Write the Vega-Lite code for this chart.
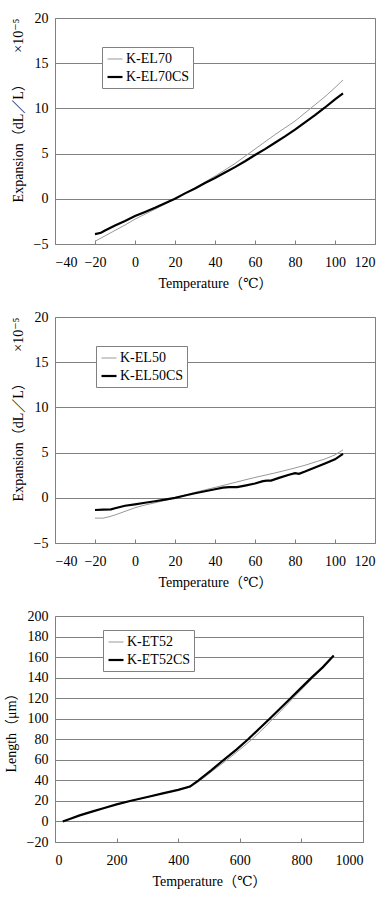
{
  "$schema": "https://vega.github.io/schema/vega-lite/v6.json",
  "padding": {"left": 3, "top": 10, "right": 5, "bottom": 5},
  "spacing": 18,
  "background": "white",
  "resolve": {
    "scale": {"color": "independent", "strokeWidth": "independent"},
    "legend": {"color": "independent", "strokeWidth": "independent"}
  },
  "config": {
    "font": "Liberation Serif, DejaVu Serif, Noto Sans CJK JP",
    "view": {"stroke": "#808080", "strokeWidth": 1},
    "axis": {
      "labelFont": "Liberation Serif, DejaVu Serif, Noto Sans CJK JP",
      "titleFont": "Liberation Serif, DejaVu Serif, Noto Sans CJK JP",
      "labelFontSize": 14,
      "labelColor": "#000000",
      "titleFontSize": 14,
      "titleFontWeight": "normal",
      "titleColor": "#000000",
      "domain": false,
      "gridColor": "#808080",
      "gridOpacity": 1,
      "gridWidth": 1,
      "tickColor": "#808080",
      "format": "d"
    },
    "axisX": {"grid": false, "tickSize": -4, "labelPadding": 15, "titlePadding": 7},
    "axisY": {"ticks": false, "labelPadding": 7, "grid": true, "titlePadding": 8},
    "legend": {
      "orient": "none",
      "title": null,
      "strokeColor": "#808080",
      "fillColor": "white",
      "padding": 4,
      "labelFont": "Liberation Serif, DejaVu Serif, Noto Sans CJK JP",
      "labelFontSize": 14,
      "labelColor": "#000000",
      "symbolType": "stroke",
      "symbolSize": 225,
      "rowPadding": 2,
      "labelOffset": 2
    },
    "line": {"interpolate": "linear"}
  },
  "vconcat": [
    {
      "width": 320,
      "height": 226,
      "data": {"values": [
        {"T": -20, "v": -4.7, "s": "K-EL70"},
        {"T": -15, "v": -4.1, "s": "K-EL70"},
        {"T": -10, "v": -3.5, "s": "K-EL70"},
        {"T": -5, "v": -2.9, "s": "K-EL70"},
        {"T": 0, "v": -2.25, "s": "K-EL70"},
        {"T": 5, "v": -1.7, "s": "K-EL70"},
        {"T": 10, "v": -1.15, "s": "K-EL70"},
        {"T": 15, "v": -0.58, "s": "K-EL70"},
        {"T": 20, "v": 0, "s": "K-EL70"},
        {"T": 25, "v": 0.6, "s": "K-EL70"},
        {"T": 30, "v": 1.2, "s": "K-EL70"},
        {"T": 35, "v": 1.85, "s": "K-EL70"},
        {"T": 40, "v": 2.5, "s": "K-EL70"},
        {"T": 45, "v": 3.2, "s": "K-EL70"},
        {"T": 50, "v": 3.9, "s": "K-EL70"},
        {"T": 55, "v": 4.7, "s": "K-EL70"},
        {"T": 60, "v": 5.5, "s": "K-EL70"},
        {"T": 65, "v": 6.3, "s": "K-EL70"},
        {"T": 70, "v": 7.1, "s": "K-EL70"},
        {"T": 75, "v": 7.85, "s": "K-EL70"},
        {"T": 80, "v": 8.6, "s": "K-EL70"},
        {"T": 85, "v": 9.5, "s": "K-EL70"},
        {"T": 90, "v": 10.4, "s": "K-EL70"},
        {"T": 95, "v": 11.3, "s": "K-EL70"},
        {"T": 100, "v": 12.3, "s": "K-EL70"},
        {"T": 104, "v": 13.15, "s": "K-EL70"},
        {"T": -20, "v": -3.9, "s": "K-EL70CS"},
        {"T": -17, "v": -3.75, "s": "K-EL70CS"},
        {"T": -15, "v": -3.5, "s": "K-EL70CS"},
        {"T": -10, "v": -2.95, "s": "K-EL70CS"},
        {"T": -5, "v": -2.45, "s": "K-EL70CS"},
        {"T": 0, "v": -1.9, "s": "K-EL70CS"},
        {"T": 5, "v": -1.45, "s": "K-EL70CS"},
        {"T": 10, "v": -1.0, "s": "K-EL70CS"},
        {"T": 15, "v": -0.5, "s": "K-EL70CS"},
        {"T": 20, "v": 0, "s": "K-EL70CS"},
        {"T": 25, "v": 0.6, "s": "K-EL70CS"},
        {"T": 30, "v": 1.15, "s": "K-EL70CS"},
        {"T": 35, "v": 1.75, "s": "K-EL70CS"},
        {"T": 40, "v": 2.3, "s": "K-EL70CS"},
        {"T": 45, "v": 2.9, "s": "K-EL70CS"},
        {"T": 50, "v": 3.5, "s": "K-EL70CS"},
        {"T": 55, "v": 4.15, "s": "K-EL70CS"},
        {"T": 60, "v": 4.85, "s": "K-EL70CS"},
        {"T": 65, "v": 5.5, "s": "K-EL70CS"},
        {"T": 70, "v": 6.2, "s": "K-EL70CS"},
        {"T": 75, "v": 6.9, "s": "K-EL70CS"},
        {"T": 80, "v": 7.65, "s": "K-EL70CS"},
        {"T": 85, "v": 8.45, "s": "K-EL70CS"},
        {"T": 90, "v": 9.25, "s": "K-EL70CS"},
        {"T": 95, "v": 10.1, "s": "K-EL70CS"},
        {"T": 100, "v": 11.0, "s": "K-EL70CS"},
        {"T": 104, "v": 11.65, "s": "K-EL70CS"}
      ]},
      "mark": {"type": "line"},
      "encoding": {
        "x": {"field": "T", "type": "quantitative", "scale": {"domain": [-40, 120], "nice": false},
              "axis": {"values": [-40, -20, 0, 20, 40, 60, 80, 100, 120], "title": "Temperature（℃）"}},
        "y": {"field": "v", "type": "quantitative", "scale": {"domain": [-5, 20], "nice": false},
              "axis": {"values": [-5, 0, 5, 10, 15, 20], "title": "Expansion（dL／L）　　 ×10⁻⁵", "titleAnchor": "end"}},
        "color": {"field": "s", "type": "nominal", "scale": {"domain": ["K-EL70", "K-EL70CS"], "range": ["#999999", "#000000"]},
                  "legend": {"legendX": 47, "legendY": 29}},
        "strokeWidth": {"field": "s", "type": "nominal", "scale": {"domain": ["K-EL70", "K-EL70CS"], "range": [1, 2.2]}},
        "order": {"field": "T", "type": "quantitative"}
      }
    },
    {
      "width": 320,
      "height": 226,
      "data": {"values": [
        {"T": -20, "v": -2.25, "s": "K-EL50"},
        {"T": -16, "v": -2.25, "s": "K-EL50"},
        {"T": -13, "v": -2.1, "s": "K-EL50"},
        {"T": -10, "v": -1.9, "s": "K-EL50"},
        {"T": -5, "v": -1.5, "s": "K-EL50"},
        {"T": 0, "v": -1.1, "s": "K-EL50"},
        {"T": 5, "v": -0.8, "s": "K-EL50"},
        {"T": 10, "v": -0.55, "s": "K-EL50"},
        {"T": 15, "v": -0.28, "s": "K-EL50"},
        {"T": 20, "v": 0, "s": "K-EL50"},
        {"T": 25, "v": 0.3, "s": "K-EL50"},
        {"T": 30, "v": 0.6, "s": "K-EL50"},
        {"T": 35, "v": 0.88, "s": "K-EL50"},
        {"T": 40, "v": 1.15, "s": "K-EL50"},
        {"T": 45, "v": 1.42, "s": "K-EL50"},
        {"T": 50, "v": 1.7, "s": "K-EL50"},
        {"T": 55, "v": 1.98, "s": "K-EL50"},
        {"T": 60, "v": 2.25, "s": "K-EL50"},
        {"T": 65, "v": 2.5, "s": "K-EL50"},
        {"T": 70, "v": 2.75, "s": "K-EL50"},
        {"T": 75, "v": 3.02, "s": "K-EL50"},
        {"T": 80, "v": 3.3, "s": "K-EL50"},
        {"T": 85, "v": 3.6, "s": "K-EL50"},
        {"T": 90, "v": 3.95, "s": "K-EL50"},
        {"T": 95, "v": 4.3, "s": "K-EL50"},
        {"T": 100, "v": 4.75, "s": "K-EL50"},
        {"T": 104, "v": 5.3, "s": "K-EL50"},
        {"T": -20, "v": -1.35, "s": "K-EL50CS"},
        {"T": -16, "v": -1.3, "s": "K-EL50CS"},
        {"T": -12, "v": -1.28, "s": "K-EL50CS"},
        {"T": -10, "v": -1.15, "s": "K-EL50CS"},
        {"T": -5, "v": -0.88, "s": "K-EL50CS"},
        {"T": 0, "v": -0.72, "s": "K-EL50CS"},
        {"T": 5, "v": -0.55, "s": "K-EL50CS"},
        {"T": 10, "v": -0.38, "s": "K-EL50CS"},
        {"T": 15, "v": -0.2, "s": "K-EL50CS"},
        {"T": 20, "v": 0, "s": "K-EL50CS"},
        {"T": 25, "v": 0.25, "s": "K-EL50CS"},
        {"T": 30, "v": 0.5, "s": "K-EL50CS"},
        {"T": 35, "v": 0.72, "s": "K-EL50CS"},
        {"T": 40, "v": 0.95, "s": "K-EL50CS"},
        {"T": 44, "v": 1.12, "s": "K-EL50CS"},
        {"T": 47, "v": 1.18, "s": "K-EL50CS"},
        {"T": 51, "v": 1.18, "s": "K-EL50CS"},
        {"T": 55, "v": 1.35, "s": "K-EL50CS"},
        {"T": 60, "v": 1.58, "s": "K-EL50CS"},
        {"T": 64, "v": 1.85, "s": "K-EL50CS"},
        {"T": 66, "v": 1.9, "s": "K-EL50CS"},
        {"T": 68, "v": 1.9, "s": "K-EL50CS"},
        {"T": 72, "v": 2.2, "s": "K-EL50CS"},
        {"T": 77, "v": 2.55, "s": "K-EL50CS"},
        {"T": 80, "v": 2.72, "s": "K-EL50CS"},
        {"T": 82, "v": 2.65, "s": "K-EL50CS"},
        {"T": 85, "v": 2.9, "s": "K-EL50CS"},
        {"T": 90, "v": 3.35, "s": "K-EL50CS"},
        {"T": 95, "v": 3.8, "s": "K-EL50CS"},
        {"T": 100, "v": 4.25, "s": "K-EL50CS"},
        {"T": 104, "v": 4.85, "s": "K-EL50CS"}
      ]},
      "mark": {"type": "line"},
      "encoding": {
        "x": {"field": "T", "type": "quantitative", "scale": {"domain": [-40, 120], "nice": false},
              "axis": {"values": [-40, -20, 0, 20, 40, 60, 80, 100, 120], "title": "Temperature（℃）"}},
        "y": {"field": "v", "type": "quantitative", "scale": {"domain": [-5, 20], "nice": false},
              "axis": {"values": [-5, 0, 5, 10, 15, 20], "title": "Expansion（dL／L）　　 ×10⁻⁵", "titleAnchor": "end"}},
        "color": {"field": "s", "type": "nominal", "scale": {"domain": ["K-EL50", "K-EL50CS"], "range": ["#999999", "#000000"]},
                  "legend": {"legendX": 41, "legendY": 29}},
        "strokeWidth": {"field": "s", "type": "nominal", "scale": {"domain": ["K-EL50", "K-EL50CS"], "range": [1, 2.2]}},
        "order": {"field": "T", "type": "quantitative"}
      }
    },
    {
      "width": 308,
      "height": 226,
      "data": {"values": [
        {"T": 25, "v": 0, "s": "K-ET52"},
        {"T": 50, "v": 2.5, "s": "K-ET52"},
        {"T": 80, "v": 5.8, "s": "K-ET52"},
        {"T": 120, "v": 9.5, "s": "K-ET52"},
        {"T": 160, "v": 13, "s": "K-ET52"},
        {"T": 200, "v": 16.5, "s": "K-ET52"},
        {"T": 250, "v": 20.3, "s": "K-ET52"},
        {"T": 300, "v": 23.7, "s": "K-ET52"},
        {"T": 350, "v": 27.3, "s": "K-ET52"},
        {"T": 400, "v": 30.7, "s": "K-ET52"},
        {"T": 440, "v": 33.5, "s": "K-ET52"},
        {"T": 472, "v": 40, "s": "K-ET52"},
        {"T": 515, "v": 50, "s": "K-ET52"},
        {"T": 559, "v": 60, "s": "K-ET52"},
        {"T": 600, "v": 70, "s": "K-ET52"},
        {"T": 640, "v": 80, "s": "K-ET52"},
        {"T": 675, "v": 90, "s": "K-ET52"},
        {"T": 708, "v": 100, "s": "K-ET52"},
        {"T": 741, "v": 110, "s": "K-ET52"},
        {"T": 773, "v": 120, "s": "K-ET52"},
        {"T": 806, "v": 130, "s": "K-ET52"},
        {"T": 838, "v": 140, "s": "K-ET52"},
        {"T": 871, "v": 150, "s": "K-ET52"},
        {"T": 905, "v": 161, "s": "K-ET52"},
        {"T": 25, "v": 0, "s": "K-ET52CS"},
        {"T": 50, "v": 2.6, "s": "K-ET52CS"},
        {"T": 80, "v": 5.9, "s": "K-ET52CS"},
        {"T": 120, "v": 9.6, "s": "K-ET52CS"},
        {"T": 160, "v": 13.1, "s": "K-ET52CS"},
        {"T": 200, "v": 16.6, "s": "K-ET52CS"},
        {"T": 250, "v": 20.4, "s": "K-ET52CS"},
        {"T": 300, "v": 23.8, "s": "K-ET52CS"},
        {"T": 350, "v": 27.4, "s": "K-ET52CS"},
        {"T": 400, "v": 30.8, "s": "K-ET52CS"},
        {"T": 438, "v": 34, "s": "K-ET52CS"},
        {"T": 466, "v": 40, "s": "K-ET52CS"},
        {"T": 508, "v": 50, "s": "K-ET52CS"},
        {"T": 548, "v": 60, "s": "K-ET52CS"},
        {"T": 589, "v": 70, "s": "K-ET52CS"},
        {"T": 627, "v": 80, "s": "K-ET52CS"},
        {"T": 662, "v": 90, "s": "K-ET52CS"},
        {"T": 697, "v": 100, "s": "K-ET52CS"},
        {"T": 731, "v": 110, "s": "K-ET52CS"},
        {"T": 765, "v": 120, "s": "K-ET52CS"},
        {"T": 799, "v": 130, "s": "K-ET52CS"},
        {"T": 833, "v": 140, "s": "K-ET52CS"},
        {"T": 869, "v": 150, "s": "K-ET52CS"},
        {"T": 905, "v": 161.5, "s": "K-ET52CS"}
      ]},
      "mark": {"type": "line"},
      "encoding": {
        "x": {"field": "T", "type": "quantitative", "scale": {"domain": [0, 1000], "nice": false},
              "axis": {"values": [0, 200, 400, 600, 800, 1000], "title": "Temperature（℃）"}},
        "y": {"field": "v", "type": "quantitative", "scale": {"domain": [-20, 200], "nice": false},
              "axis": {"values": [-20, 0, 20, 40, 60, 80, 100, 120, 140, 160, 180, 200], "title": "Length（μm）"}},
        "color": {"field": "s", "type": "nominal", "scale": {"domain": ["K-ET52", "K-ET52CS"], "range": ["#999999", "#000000"]},
                  "legend": {"legendX": 48, "legendY": 14}},
        "strokeWidth": {"field": "s", "type": "nominal", "scale": {"domain": ["K-ET52", "K-ET52CS"], "range": [1, 2.2]}},
        "order": {"field": "T", "type": "quantitative"}
      }
    }
  ]
}
